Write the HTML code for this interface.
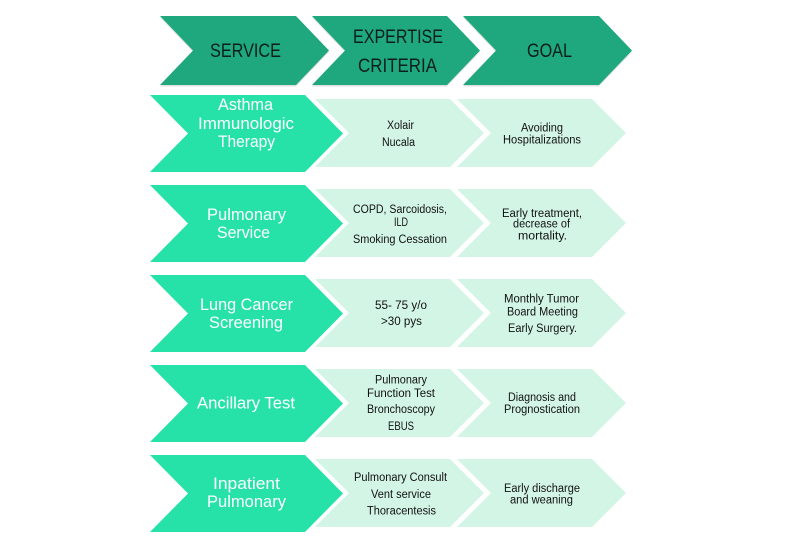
<!DOCTYPE html>
<html>
<head>
<meta charset="utf-8">
<style>
html,body{margin:0;padding:0;background:#fff;}
svg{display:block;}
text{font-family:"Liberation Sans",sans-serif;text-anchor:middle;}
.h{font-size:19px;fill:#0c1f18;}
.s{font-size:16.5px;fill:#ffffff;}
.l{font-size:11.5px;fill:#111;}
</style>
</head>
<body>
<svg width="800" height="551" viewBox="0 0 800 551" xmlns="http://www.w3.org/2000/svg">
<rect width="800" height="551" fill="#fff"/>
<!-- header shadows -->
<g fill="#000" opacity="0.12">
<polygon points="160,17.5 296,17.5 329,52 296,86.5 160,86.5 193,52"/>
<polygon points="312,17.5 447,17.5 480,52 447,86.5 312,86.5 345,52"/>
<polygon points="463,17.5 599,17.5 632,52 599,86.5 463,86.5 496,52"/>
</g>
<g fill="#1fa87e">
<polygon points="160,16 296,16 329,50.5 296,85 160,85 193,50.5"/>
<polygon points="312,16 447,16 480,50.5 447,85 312,85 345,50.5"/>
<polygon points="463,16 599,16 632,50.5 599,85 463,85 496,50.5"/>
</g>
<text class="h" x="245.5" y="57" textLength="71" lengthAdjust="spacingAndGlyphs">SERVICE</text>
<text class="h" x="398" y="43" textLength="90" lengthAdjust="spacingAndGlyphs">EXPERTISE</text>
<text class="h" x="397.5" y="72" textLength="79" lengthAdjust="spacingAndGlyphs">CRITERIA</text>
<text class="h" x="549.5" y="57" textLength="45" lengthAdjust="spacingAndGlyphs">GOAL</text>

<!-- rows -->
<g id="r0">
<polygon fill="#d3f5e6" points="457,99 592,99 626,133 592,167 457,167 491,133"/>
<polygon fill="#d3f5e6" points="315,99 450,99 484,133 450,167 315,167 349,133"/>
<polygon fill="#26e2a9" points="150,95 305,95 343,133.5 305,172 150,172 188,133.5"/>
</g>
<g transform="translate(0,90)">
<polygon fill="#d3f5e6" points="457,99 592,99 626,133 592,167 457,167 491,133"/>
<polygon fill="#d3f5e6" points="315,99 450,99 484,133 450,167 315,167 349,133"/>
<polygon fill="#26e2a9" points="150,95 305,95 343,133.5 305,172 150,172 188,133.5"/>
</g>
<g transform="translate(0,180)">
<polygon fill="#d3f5e6" points="457,99 592,99 626,133 592,167 457,167 491,133"/>
<polygon fill="#d3f5e6" points="315,99 450,99 484,133 450,167 315,167 349,133"/>
<polygon fill="#26e2a9" points="150,95 305,95 343,133.5 305,172 150,172 188,133.5"/>
</g>
<g transform="translate(0,270)">
<polygon fill="#d3f5e6" points="457,99 592,99 626,133 592,167 457,167 491,133"/>
<polygon fill="#d3f5e6" points="315,99 450,99 484,133 450,167 315,167 349,133"/>
<polygon fill="#26e2a9" points="150,95 305,95 343,133.5 305,172 150,172 188,133.5"/>
</g>
<g transform="translate(0,360)">
<polygon fill="#d3f5e6" points="457,99 592,99 626,133 592,167 457,167 491,133"/>
<polygon fill="#d3f5e6" points="315,99 450,99 484,133 450,167 315,167 349,133"/>
<polygon fill="#26e2a9" points="150,95 305,95 343,133.5 305,172 150,172 188,133.5"/>
</g>

<!-- row 1 -->
<text class="s" x="245.5" y="110" textLength="55" lengthAdjust="spacingAndGlyphs">Asthma</text>
<text class="s" x="246" y="129" textLength="96" lengthAdjust="spacingAndGlyphs">Immunologic</text>
<text class="s" x="246.5" y="147" textLength="57" lengthAdjust="spacingAndGlyphs">Therapy</text>
<text class="l" x="400.5" y="129" textLength="27" lengthAdjust="spacingAndGlyphs">Xolair</text>
<text class="l" x="398.5" y="146" textLength="33" lengthAdjust="spacingAndGlyphs">Nucala</text>
<text class="l" x="542" y="131.5" textLength="42" lengthAdjust="spacingAndGlyphs">Avoiding</text>
<text class="l" x="542" y="143.5" textLength="78" lengthAdjust="spacingAndGlyphs">Hospitalizations</text>

<!-- row 2 -->
<text class="s" x="246.5" y="220" textLength="79" lengthAdjust="spacingAndGlyphs">Pulmonary</text>
<text class="s" x="243.5" y="238" textLength="53" lengthAdjust="spacingAndGlyphs">Service</text>
<text class="l" x="400" y="213" textLength="94" lengthAdjust="spacingAndGlyphs">COPD, Sarcoidosis,</text>
<text class="l" x="401" y="226" textLength="14" lengthAdjust="spacingAndGlyphs">ILD</text>
<text class="l" x="400" y="243" textLength="94" lengthAdjust="spacingAndGlyphs">Smoking Cessation</text>
<text class="l" x="542" y="217" textLength="80" lengthAdjust="spacingAndGlyphs">Early treatment,</text>
<text class="l" x="541.5" y="227.5" textLength="57" lengthAdjust="spacingAndGlyphs">decrease of</text>
<text class="l" x="542.5" y="239.5" textLength="49" lengthAdjust="spacingAndGlyphs">mortality.</text>

<!-- row 3 -->
<text class="s" x="246.5" y="310" textLength="93" lengthAdjust="spacingAndGlyphs">Lung Cancer</text>
<text class="s" x="246" y="328" textLength="74" lengthAdjust="spacingAndGlyphs">Screening</text>
<text class="l" x="401" y="309" textLength="52" lengthAdjust="spacingAndGlyphs">55- 75 y/o</text>
<text class="l" x="401.5" y="325" textLength="41" lengthAdjust="spacingAndGlyphs">&gt;30 pys</text>
<text class="l" x="541.5" y="302.5" textLength="75" lengthAdjust="spacingAndGlyphs">Monthly Tumor</text>
<text class="l" x="542.5" y="315.5" textLength="71" lengthAdjust="spacingAndGlyphs">Board Meeting</text>
<text class="l" x="542.5" y="332" textLength="69" lengthAdjust="spacingAndGlyphs">Early Surgery.</text>

<!-- row 4 -->
<text class="s" x="246" y="408.5" textLength="98" lengthAdjust="spacingAndGlyphs">Ancillary Test</text>
<text class="l" x="401" y="383.5" textLength="52" lengthAdjust="spacingAndGlyphs">Pulmonary</text>
<text class="l" x="401" y="397" textLength="68" lengthAdjust="spacingAndGlyphs">Function Test</text>
<text class="l" x="401" y="413" textLength="68" lengthAdjust="spacingAndGlyphs">Bronchoscopy</text>
<text class="l" x="401" y="430" textLength="26" lengthAdjust="spacingAndGlyphs">EBUS</text>
<text class="l" x="542" y="401" textLength="68" lengthAdjust="spacingAndGlyphs">Diagnosis and</text>
<text class="l" x="542" y="413" textLength="76" lengthAdjust="spacingAndGlyphs">Prognostication</text>

<!-- row 5 -->
<text class="s" x="246.5" y="489" textLength="67" lengthAdjust="spacingAndGlyphs">Inpatient</text>
<text class="s" x="246.5" y="507" textLength="79" lengthAdjust="spacingAndGlyphs">Pulmonary</text>
<text class="l" x="400.5" y="481" textLength="93" lengthAdjust="spacingAndGlyphs">Pulmonary Consult</text>
<text class="l" x="401" y="498" textLength="60" lengthAdjust="spacingAndGlyphs">Vent service</text>
<text class="l" x="401.5" y="514.5" textLength="69" lengthAdjust="spacingAndGlyphs">Thoracentesis</text>
<text class="l" x="542" y="492" textLength="76" lengthAdjust="spacingAndGlyphs">Early discharge</text>
<text class="l" x="541.5" y="503.5" textLength="63" lengthAdjust="spacingAndGlyphs">and weaning</text>
</svg>
</body>
</html>
